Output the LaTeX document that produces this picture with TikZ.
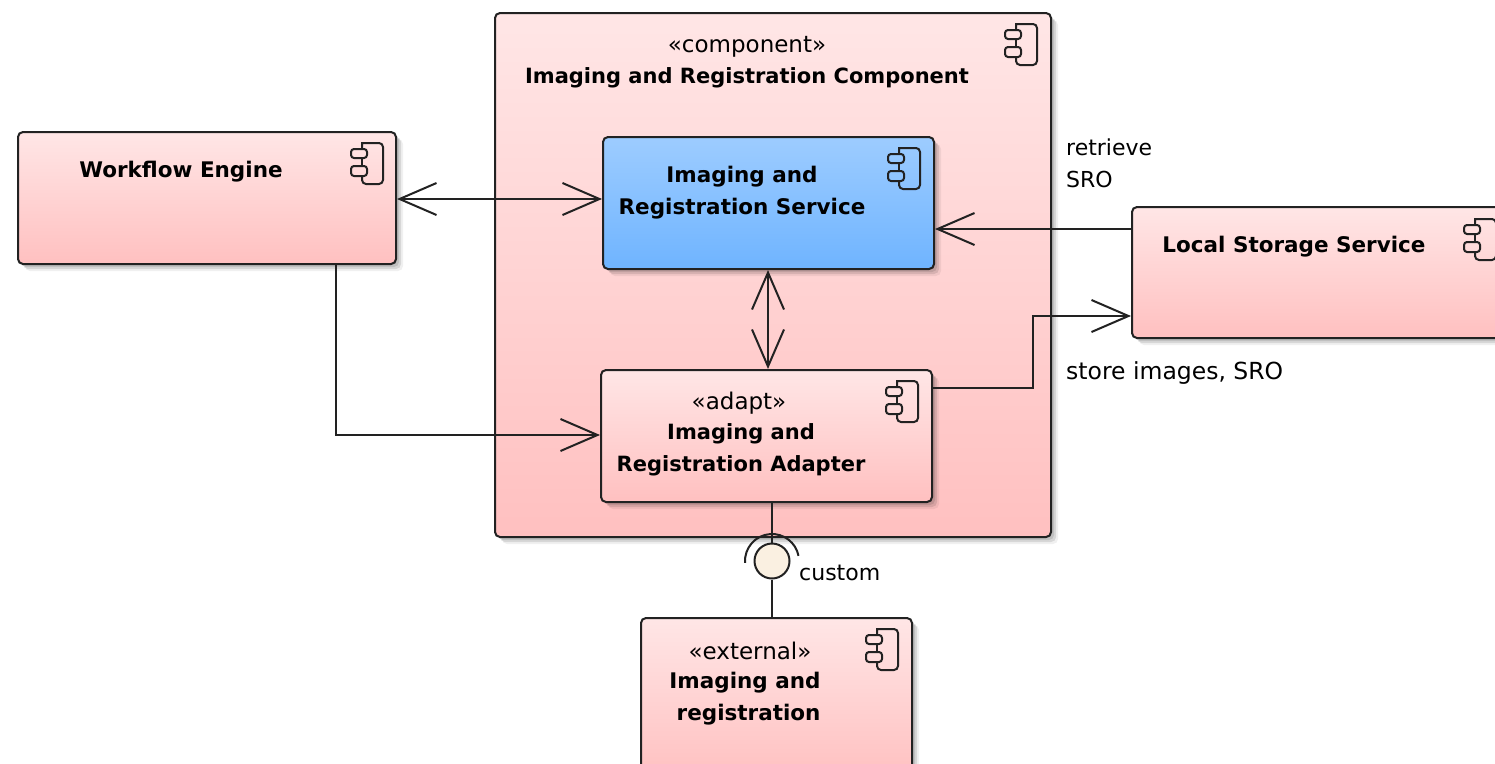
\documentclass[tikz,border=0pt]{standalone}
\usepackage{fontspec}
\setmainfont{DejaVu Sans}
\usetikzlibrary{arrows.meta,calc}
\definecolor{pinktop}{HTML}{FFE6E6}
\definecolor{pinkbot}{HTML}{FFC0C0}
\definecolor{bluetop}{HTML}{9DCCFF}
\definecolor{bluebot}{HTML}{6FB4FF}
\definecolor{linecol}{HTML}{222222}
\definecolor{lolli}{HTML}{FAF0E1}
\newcommand{\shadowbox}[4]{%
  \foreach \s/\o in {2/.10,4/.10,6/.10,8/.06}{\fill[black,opacity=\o,rounded corners=5pt] (#1+\s,#2+\s) rectangle (#3+\s,#4+\s);}}
\newcommand{\compicon}[2]{%
  \draw[iconline] (#1-21,#2+6) -- (#1-21,#2) -- (#1-4,#2) [rounded corners=4pt] -- (#1,#2) -- (#1,#2+41) -- (#1-21,#2+41) -- (#1-21,#2+33);
  \draw[iconline] (#1-21,#2+15) -- (#1-21,#2+23);
  \draw[iconline,rounded corners=3pt] (#1-32,#2+6) rectangle (#1-16,#2+15);
  \draw[iconline,rounded corners=3pt] (#1-32,#2+23) rectangle (#1-16,#2+33);}
\tikzset{
  x=1pt,y=-1pt,
  compbox/.style={draw=linecol,line width=2pt,rounded corners=5pt,anchor=north west,inner sep=0pt,top color=pinktop,bottom color=pinkbot},
  bluebox/.style={compbox,top color=bluetop,bottom color=bluebot},
  iconline/.style={draw=linecol,line width=2pt},
  conn/.style={draw=linecol,line width=2pt},
  both/.style={conn,{Straight Barb[length=37pt,width=32pt,line width=2pt]}-{Straight Barb[length=37pt,width=32pt,line width=2pt]}},
  ahead/.style={conn,-{Straight Barb[length=37pt,width=32pt,line width=2pt]}},
  title/.style={font=\fontsize{21.5}{32}\selectfont\bfseries,align=center,text=black,inner sep=0pt},
  stereo/.style={font=\fontsize{23}{26}\selectfont,text=black,inner sep=0pt},
  lbl/.style={font=\fontsize{22}{32}\selectfont,text=black,align=left,inner sep=0pt,anchor=west},
}
\begin{document}
\begin{tikzpicture}
\useasboundingbox (1,1) rectangle (1496,764);
\clip (1,1) rectangle (1496,764);
\fill[white] (1,1) rectangle (1496,764);
% outer component
\shadowbox{495}{13}{1051}{537}
\node[compbox,minimum width=556pt,minimum height=524pt] (comp) at (495,13) {};
\compicon{1038}{25}
\node[stereo] (compst) at (748,48) {«component»};
\node[title,font=\fontsize{21}{32}\selectfont\bfseries] (compti) at (748,79) {Imaging and Registration Component};
% workflow
\shadowbox{18}{132}{396}{264}
\node[compbox,minimum width=378pt,minimum height=132pt] (wf) at (18,132) {};
\compicon{384}{144}
\node[title] (wfti) at (182,173) {Workflow Engine};
% service
\shadowbox{603}{137}{934}{269}
\node[bluebox,minimum width=331pt,minimum height=132pt] (svc) at (603,137) {};
\compicon{921}{149}
\node[title] (svcti) at (743,194) {Imaging and\\Registration Service};
% adapter
\shadowbox{601}{370}{932}{502}
\node[compbox,minimum width=331pt,minimum height=132pt] (ad) at (601,370) {};
\compicon{919}{382}
\node[stereo] (adst) at (740,404) {«adapt»};
\node[title,font=\fontsize{21}{32}\selectfont\bfseries] (adti) at (742,451) {Imaging and\\Registration Adapter};
% local storage
\shadowbox{1132}{207}{1510}{338}
\node[compbox,minimum width=378pt,minimum height=131pt] (ls) at (1132,207) {};
\compicon{1497}{220}
\node[title] (lsti) at (1295,248) {Local Storage Service};
% external
\shadowbox{641}{618}{912}{780}
\node[compbox,minimum width=271pt,minimum height=162pt] (ext) at (641,618) {};
\compicon{899}{630}
\node[stereo] (extst) at (751,652) {«external»};
\node[title,align=right] (extti) at (746,700) {Imaging and\\registration};
% connectors
\coordinate (ya) at (0,200);
\coordinate (yb) at (0,230);
\coordinate (yc) at (0,317);
\coordinate (yd) at (0,389);
\coordinate (ye) at (0,436);
\coordinate (xa) at (337,0);
\coordinate (xb) at (769,0);
\coordinate (xc) at (773,0);
\coordinate (xd) at (1034,0);
\draw[both] (wf.east |- ya) -- (svc.west |- ya);
\draw[ahead] (ls.west |- yb) -- (svc.east |- yb);
\draw[both] (xb |- svc.south) -- (xb |- ad.north);
\draw[ahead] (ad.east |- yd) -- (xd |- yd) -- (xd |- yc) -- (ls.west |- yc);
\draw[ahead] (xa |- wf.south) -- (xa |- ye) -- (ad.west |- ye);
% lollipop
\node[circle,draw=linecol,line width=2pt,fill=lolli,minimum size=35pt,inner sep=0pt] (lp) at (773,562) {};
\draw[conn] (xc |- ad.south) -- (lp.north);
\draw[conn] (lp.south) -- (xc |- ext.north);
\draw[conn] (lp.center) ++(-184:27) arc[start angle=-184,end angle=-11,radius=27];
% labels
\node[lbl] (lc) at (800,574) {custom};
\node[lbl,anchor=north west] (lr) at (1067,140) {retrieve\\SRO};
\node[lbl,font=\fontsize{23.5}{32}\selectfont] (ls2) at (1067,374) {store images, SRO};
\end{tikzpicture}
\end{document}
